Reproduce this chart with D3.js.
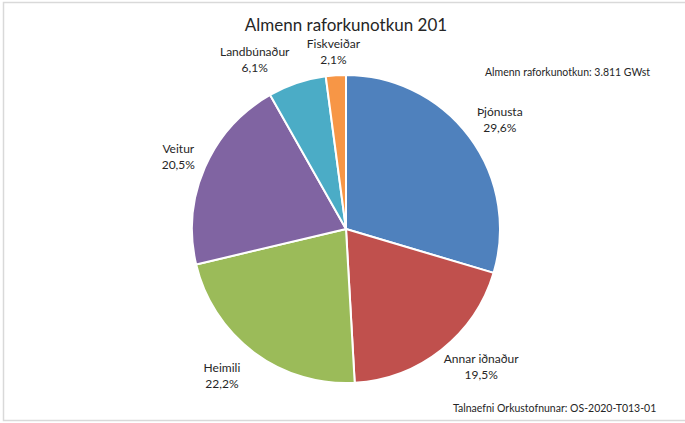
<!DOCTYPE html>
<meta charset="utf-8">
<script src="https://cdn.jsdelivr.net/npm/d3@7"></script>

<style>
body {margin: 0; background: white;}
svg text {font-family: Lato, "Open Sans", sans-serif; fill: #262626;}
.title {font-size: 17px; text-anchor: middle;}
.label {font-size: 12px; text-anchor: middle;}
.note {font-size: 10.5px;}
</style>

<svg width="685" height="423"></svg>

<script>
var categories = ["Þjónusta", "Annar iðnaður", "Heimili", "Veitur", "Landbúnaður", "Fiskveiðar"];
var shares = [29.6, 19.5, 22.2, 20.5, 6.1, 2.1];
var colors = ["#4f81bd", "#c0504d", "#9bbb59", "#8064a2", "#4bacc6", "#f79646"];

var title = "Almenn raforkunotkun 201";
var totalNote = "Almenn raforkunotkun: 3.811 GWst";
var sourceNote = "Talnaefni Orkustofnunar: OS-2020-T013-01";

// excel moves some labels sideways so they don't collide
var labelShift = {"Landbúnaður": [-28, 2], "Annar iðnaður": [10, -3], "Heimili": [-15, 3],
                  "Fiskveiðar": [0, 3], "Þjónusta": [4, -1], "Veitur": [-2, 0]};

var svg = d3.select("svg"),
    cx = 346, cy = 229, radius = 154;

// chart area border
svg.append("rect")
    .attr("x", 3.5).attr("y", 2.5)
    .attr("width", 700).attr("height", 418)
    .attr("fill", "none")
    .attr("stroke", "#d9d9d9")
    .attr("stroke-width", 1.5);

svg.append("text")
    .attr("class", "title")
    .attr("x", cx).attr("y", 31)
    .text(title);

var data = categories.map(function(c, i) { return {name: c, value: shares[i], color: colors[i]}; });

var pie = d3.pie().sort(null).value(function(d) { return d.value; });
var arc = d3.arc().innerRadius(0).outerRadius(radius);

var g = svg.append("g").attr("transform", "translate(" + cx + "," + cy + ")");

var arcs = pie(data);

g.selectAll("path").data(arcs).enter().append("path")
    .attr("d", arc)
    .attr("fill", function(d) { return d.data.color; })
    .attr("stroke", "white")
    .attr("stroke-width", 2)
    .attr("stroke-linejoin", "round");

var fmt = function(v) { return d3.format(".1f")(v).replace(".", ","); };

var labels = g.selectAll(".label").data(arcs).enter().append("text")
    .attr("class", "label");

labels.each(function(d) {
    var t = d3.select(this);
    t.append("tspan").attr("x", 0).attr("dy", 0).text(d.data.name);
    t.append("tspan").attr("x", 0).attr("dy", 16).text(fmt(d.data.value) + "%");
});

labels.attr("transform", function(d) {
    var a = (d.startAngle + d.endAngle) / 2,
        r = radius + 10,
        bb = this.getBBox(),
        w = bb.width, h = 32;
    var x = Math.sin(a) * r + Math.sin(a) * w / 2,
        y = -Math.cos(a) * r - Math.cos(a) * h / 2;
    var s = labelShift[d.data.name] || [0, 0];
    // text baseline of first line sits ~4px above box center
    return "translate(" + (x + s[0]) + "," + (y - 4 + s[1]) + ")";
});

svg.append("text")
    .attr("class", "note")
    .attr("x", 485).attr("y", 76)
    .text(totalNote);

svg.append("text")
    .attr("class", "note")
    .attr("x", 453).attr("y", 412)
    .text(sourceNote);
</script>
